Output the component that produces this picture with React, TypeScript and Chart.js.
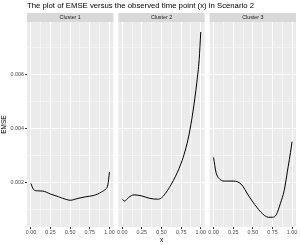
import React, { useEffect, useRef } from 'react';
import { Chart, registerables } from 'chart.js';

Chart.register(...registerables);

const titleText = 'The plot of EMSE versus the observed time point (x) in Scenario 2';
const clusterNames = ['Cluster 1', 'Cluster 2', 'Cluster 3'];
const xGrid = [0, 0.03, 0.08, 0.15, 0.25, 0.35, 0.45, 0.5, 0.6, 0.7, 0.75, 0.8, 0.85, 0.9, 0.95, 0.98, 1.0];
const emseCluster1 = [0.00195, 0.00174, 0.00168, 0.00167, 0.00156, 0.00146, 0.00136, 0.00133, 0.0014, 0.00146, 0.00148, 0.00151, 0.00156, 0.00164, 0.00174, 0.0019, 0.00237];
const emseCluster2 = [0.00136, 0.0013, 0.00143, 0.00153, 0.00149, 0.0014, 0.00137, 0.00142, 0.0018, 0.00235, 0.0027, 0.00315, 0.00375, 0.0046, 0.0057, 0.00655, 0.00756];
const emseCluster3 = [0.00291, 0.00238, 0.00211, 0.00204, 0.00204, 0.00193, 0.00148, 0.00127, 0.0009, 0.0007, 0.0007, 0.0008, 0.0012, 0.0017, 0.00257, 0.0031, 0.0035];
const xTickValues = [0, 0.125, 0.25, 0.375, 0.5, 0.625, 0.75, 0.875, 1];
const xTickLabels = ['0.00', '', '0.25', '', '0.50', '', '0.75', '', '1.00'];
const yTickValues = [0.001, 0.002, 0.003, 0.004, 0.005, 0.006, 0.007];
const yTickLabels = ['', '0.002', '', '0.004', '', '0.006', ''];

const series = [emseCluster1, emseCluster2, emseCluster3];

const PANEL_W = 1.1;
const GAP = 0.063;
const STRIDE = PANEL_W + GAP;
const X_MIN = -0.05;
const X_MAX = X_MIN + 3 * PANEL_W + 2 * GAP;
const Y_MIN = 0.00034;
const Y_MAX = 0.00793;
const FONT = "'Liberation Sans', Arial, sans-serif";

const allXTicks: number[] = [];
const allXLabels: string[] = [];
for (let k = 0; k < 3; k++) {
  xTickValues.forEach((v, i) => {
    allXTicks.push(v + k * STRIDE);
    allXLabels.push(xTickLabels[i]);
  });
}

const facetPlugin = {
  id: 'facets',
  beforeDraw(chart: any) {
    const { ctx, chartArea, scales } = chart;
    const xs = scales.x;
    ctx.save();
    ctx.fillStyle = '#ffffff';
    ctx.fillRect(0, 0, chart.width, chart.height);
    for (let k = 0; k < 3; k++) {
      const l = xs.getPixelForValue(X_MIN + k * STRIDE);
      const r = xs.getPixelForValue(X_MIN + k * STRIDE + PANEL_W);
      ctx.fillStyle = '#ebebeb';
      ctx.fillRect(l, chartArea.top, r - l, chartArea.bottom - chartArea.top);
      ctx.fillStyle = '#d9d9d9';
      ctx.fillRect(l, chartArea.top - 9, r - l, 9);
      ctx.fillStyle = '#1a1a1a';
      ctx.font = `5.3px ${FONT}`;
      ctx.textAlign = 'center';
      ctx.textBaseline = 'middle';
      ctx.fillText(clusterNames[k], (l + r) / 2, chartArea.top - 4.5);
    }
    ctx.restore();
  },
};

export default function App() {
  const ref = useRef<HTMLCanvasElement>(null);
  useEffect(() => {
    if (!ref.current) return;
    const chart = new Chart(ref.current, {
      type: 'line',
      data: {
        datasets: series.map((s, k) => ({
          label: clusterNames[k],
          data: xGrid.map((x, i) => ({ x: x + k * STRIDE, y: s[i] })),
          borderColor: '#000000',
          borderWidth: 1,
          pointRadius: 0,
          fill: false,
          cubicInterpolationMode: 'monotone' as const,
        })),
      },
      options: {
        animation: false,
        responsive: false,
        devicePixelRatio: 1,
        layout: { padding: { top: 0, left: 0, right: 4, bottom: 0 } },
        plugins: {
          legend: { display: false },
          tooltip: { enabled: false },
          title: {
            display: true,
            text: titleText,
            align: 'start',
            fullSize: false,
            color: '#000000',
            font: { size: 7.75, family: FONT, weight: 'normal' },
            padding: { top: 1.2, bottom: 11.5 },
          },
        },
        scales: {
          x: {
            type: 'linear',
            min: X_MIN,
            max: X_MAX,
            afterBuildTicks: (scale: any) => {
              scale.ticks = allXTicks.map((v) => ({ value: v }));
            },
            afterFit: (scale: any) => {
              scale.height = 18;
            },
            ticks: {
              autoSkip: false,
              maxRotation: 0,
              padding: 0.5,
              color: '#4d4d4d',
              font: { size: 5.4, family: FONT },
              callback: (_v: any, i: number) => allXLabels[i],
            },
            grid: {
              color: '#ffffff',
              lineWidth: (ctx: any) => (allXLabels[ctx.index] ? 1 : 0.5),
              tickColor: (ctx: any) => (allXLabels[ctx.index] ? '#333333' : 'rgba(0,0,0,0)'),
              tickLength: 2,
              drawTicks: true,
            },
            border: { display: false },
            title: {
              display: true,
              text: 'x',
              color: '#000000',
              font: { size: 6.5, family: FONT },
              padding: { top: 0, bottom: 1.2 },
            },
          },
          y: {
            type: 'linear',
            min: Y_MIN,
            max: Y_MAX,
            afterBuildTicks: (scale: any) => {
              scale.ticks = yTickValues.map((v) => ({ value: v }));
            },
            afterFit: (scale: any) => {
              scale.width = 27;
            },
            ticks: {
              autoSkip: false,
              padding: 1,
              color: '#4d4d4d',
              font: { size: 5.4, family: FONT },
              callback: (_v: any, i: number) => yTickLabels[i],
            },
            grid: {
              color: '#ffffff',
              lineWidth: (ctx: any) => (yTickLabels[ctx.index] ? 1 : 0.5),
              tickColor: (ctx: any) => (yTickLabels[ctx.index] ? '#333333' : 'rgba(0,0,0,0)'),
              tickLength: 2,
              drawTicks: true,
            },
            border: { display: false },
            title: {
              display: true,
              text: 'EMSE',
              color: '#000000',
              font: { size: 6.5, family: FONT },
              padding: { top: 0.6, bottom: 0 },
            },
          },
        },
      },
      plugins: [facetPlugin],
    });
    return () => chart.destroy();
  }, []);
  return (
    <div style={{ position: 'absolute', left: 0, top: 0, width: 300, height: 245 }}>
      <canvas ref={ref} width={300} height={245} />
    </div>
  );
}
